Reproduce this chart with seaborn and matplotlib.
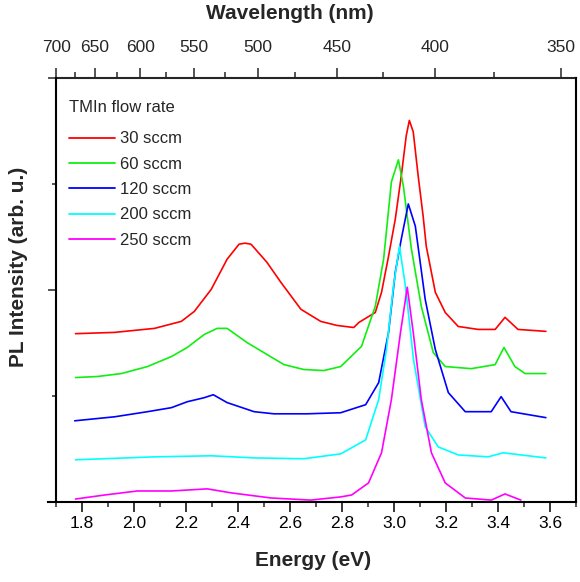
import numpy as np
import pandas as pd
import matplotlib
matplotlib.use("Agg")
import matplotlib.pyplot as plt
import matplotlib.ticker as mticker
import seaborn as sns

# ---------------- data ----------------
series_names = ["30 sccm", "60 sccm", "120 sccm", "200 sccm", "250 sccm"]
series_colors = ["#FF0000", "#11EE11", "#0000FF", "#00FFFF", "#FF00FF"]

e_30 = [1.775, 1.925, 2.079, 2.182, 2.232, 2.297, 2.358, 2.404, 2.427, 2.450, 2.511, 2.565, 2.642,
        2.718, 2.780, 2.845, 2.865, 2.928, 2.952, 2.979, 3.005, 3.028, 3.047, 3.059, 3.074, 3.093,
        3.112, 3.124, 3.159, 3.197, 3.247, 3.324, 3.389, 3.427, 3.477, 3.584]
i_30 = [0.794, 0.800, 0.819, 0.852, 0.899, 1.003, 1.145, 1.216, 1.221, 1.216, 1.131, 1.036, 0.909,
        0.852, 0.833, 0.823, 0.847, 0.894, 0.989, 1.159, 1.335, 1.538, 1.727, 1.800, 1.746, 1.538,
        1.349, 1.207, 0.989, 0.894, 0.828, 0.814, 0.814, 0.871, 0.814, 0.805]

e_60 = [1.775, 1.860, 1.952, 2.052, 2.144, 2.205, 2.270, 2.320, 2.358, 2.435, 2.511, 2.577, 2.653,
        2.730, 2.795, 2.875, 2.928, 2.960, 2.990, 3.017, 3.036, 3.067, 3.105, 3.151, 3.197, 3.297,
        3.389, 3.423, 3.465, 3.504, 3.584]
i_60 = [0.587, 0.592, 0.606, 0.639, 0.686, 0.729, 0.790, 0.819, 0.819, 0.752, 0.696, 0.648, 0.625,
        0.620, 0.639, 0.734, 0.923, 1.145, 1.510, 1.614, 1.491, 1.193, 0.923, 0.705, 0.639, 0.629,
        0.648, 0.729, 0.639, 0.606, 0.606]

e_120 = [1.772, 1.926, 2.052, 2.144, 2.205, 2.270, 2.305, 2.358, 2.462, 2.538, 2.665, 2.795, 2.891,
         2.941, 2.979, 3.005, 3.028, 3.055, 3.082, 3.120, 3.159, 3.209, 3.274, 3.374, 3.412, 3.450,
         3.584]
i_120 = [0.383, 0.402, 0.426, 0.445, 0.473, 0.492, 0.506, 0.469, 0.426, 0.416, 0.416, 0.421, 0.459,
         0.563, 0.800, 1.084, 1.240, 1.406, 1.301, 0.956, 0.719, 0.516, 0.426, 0.426, 0.497, 0.426,
         0.398]

e_200 = [1.775, 2.079, 2.297, 2.462, 2.653, 2.795, 2.891, 2.941, 2.971, 2.998, 3.021, 3.044, 3.075,
         3.120, 3.170, 3.247, 3.362, 3.420, 3.584]
i_200 = [0.199, 0.213, 0.218, 0.208, 0.204, 0.227, 0.293, 0.483, 0.719, 1.018, 1.207, 1.018, 0.672,
         0.355, 0.260, 0.222, 0.213, 0.232, 0.208]

e_250 = [1.775, 1.887, 2.013, 2.144, 2.282, 2.374, 2.527, 2.680, 2.795, 2.837, 2.902, 2.952, 2.990,
         3.025, 3.051, 3.074, 3.105, 3.144, 3.197, 3.274, 3.374, 3.427, 3.488]
i_250 = [0.014, 0.033, 0.052, 0.052, 0.062, 0.043, 0.019, 0.009, 0.024, 0.033, 0.090, 0.232, 0.483,
         0.800, 1.013, 0.800, 0.483, 0.232, 0.090, 0.019, 0.009, 0.038, 0.009]

energy_ticks = [1.8, 2.0, 2.2, 2.4, 2.6, 2.8, 3.0, 3.2, 3.4, 3.6]
wavelength_ticks = [700, 650, 600, 550, 500, 450, 400, 350]
wavelength_minor = [675, 625, 575, 525, 475, 425, 375]

frames = []
for name, e, i in zip(series_names,
                      [e_30, e_60, e_120, e_200, e_250],
                      [i_30, i_60, i_120, i_200, i_250]):
    frames.append(pd.DataFrame({"Energy": e, "Intensity": i, "Series": name}))
df = pd.concat(frames, ignore_index=True)

# ---------------- style ----------------
sns.set_style("ticks")
plt.rcParams["font.family"] = ["Liberation Sans", "DejaVu Sans"]

fig = plt.figure(figsize=(5.8, 5.82), dpi=100)
ax = fig.add_axes([56 / 580, 80 / 582, 520 / 580, 424 / 582])

sns.lineplot(data=df, x="Energy", y="Intensity", hue="Series",
             hue_order=series_names, palette=series_colors,
             estimator=None, sort=True, linewidth=1.2, ax=ax)

ax.set_xlim(1.7, 3.7)
ax.set_ylim(0, 2.0)

for sp in ax.spines.values():
    sp.set_linewidth(1.5)
    sp.set_color("black")
ax.spines["top"].set_visible(False)
ax.spines["bottom"].set_bounds(1.669, 3.7)

ax.xaxis.set_major_locator(mticker.FixedLocator(energy_ticks))
ax.xaxis.set_minor_locator(mticker.MultipleLocator(0.1))
ax.xaxis.set_major_formatter(mticker.FormatStrFormatter("%.1f"))
ax.yaxis.set_major_locator(mticker.FixedLocator([0, 1, 2]))
ax.yaxis.set_minor_locator(mticker.FixedLocator([0.5, 1.5]))
ax.yaxis.set_major_formatter(mticker.NullFormatter())

ax.tick_params(axis="x", which="major", direction="out", length=7, width=1.1,
               labelsize=12.5, pad=3, colors="black")
ax.tick_params(axis="x", which="minor", direction="out", length=3.5, width=1.1)
ax.tick_params(axis="y", which="major", direction="out", length=6, width=1.1)
ax.tick_params(axis="y", which="minor", direction="out", length=3, width=1.1)
ax.tick_params(right=False, top=False, which="both")

# top wavelength axis
K, C = 1359.8, 0.2420


def e2l(e):
    e = np.asarray(e, dtype=float)
    return K / np.maximum(e + C, 1e-6)


def l2e(l):
    l = np.asarray(l, dtype=float)
    return K / np.maximum(l, 1e-6) - C


secax = ax.secondary_xaxis("top", functions=(e2l, l2e))
secax.xaxis.set_major_locator(mticker.FixedLocator(wavelength_ticks))
secax.xaxis.set_minor_locator(mticker.FixedLocator(wavelength_minor))
secax.xaxis.set_major_formatter(mticker.FormatStrFormatter("%d"))
secax.tick_params(axis="x", which="major", direction="out", length=7.5, width=1.1,
                  labelsize=12.5, pad=9)
secax.tick_params(axis="x", which="minor", direction="out", length=4, width=1.1)
secax.spines["top"].set_linewidth(1.5)

# axis titles
ax.set_xlabel("Energy (eV)", fontsize=15, fontweight="bold")
ax.xaxis.label.set_va("center")
ax.xaxis.set_label_coords(0.495, -0.139)

ax.set_ylabel("PL Intensity (arb. u.)", fontsize=15, fontweight="bold")
ax.yaxis.label.set_va("center")
ax.yaxis.set_label_coords(-0.072, 0.554)

secax.set_xlabel("Wavelength (nm)", fontsize=15, fontweight="bold")
secax.xaxis.label.set_va("center")
secax.xaxis.set_label_coords(0.45, 1.152, transform=ax.transAxes)

# legend
leg = ax.legend(title="TMIn flow rate", loc="upper left",
                bbox_to_anchor=(0.025, 0.947), frameon=False, fontsize=12,
                title_fontsize=12, handlelength=2.75, handletextpad=0.3,
                labelspacing=0.62, borderpad=0, borderaxespad=0,
                alignment="left")
leg._legend_box.sep = 11.5
for line in leg.get_lines():
    line.set_linewidth(1.3)

fig.savefig("out.png", dpi=100)
